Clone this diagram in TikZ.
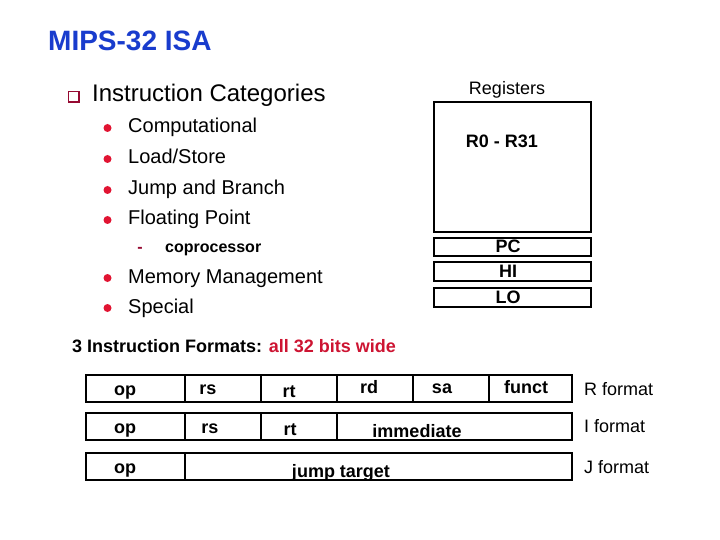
\documentclass[tikz,border=0pt]{standalone}
\usepackage{fontspec}
\setmainfont{Liberation Sans}

\definecolor{isablue}{RGB}{25,60,205}
\definecolor{dotred}{RGB}{225,20,50}
\definecolor{boxred}{RGB}{150,10,50}
\definecolor{widered}{RGB}{205,20,50}

\tikzset{
	txt/.style={anchor=base west, inner sep=0pt, font=\fontsize{20}{24}\selectfont},
	fld/.style={anchor=base, inner sep=0pt, font=\fontsize{18}{22}\selectfont\bfseries},
	fmtname/.style={anchor=base west, inner sep=0pt, font=\fontsize{18}{22}\selectfont},
	frame/.style={draw=black, line width=1.2pt}
}

\begin{document}
\begin{tikzpicture}[x=1pt, y=-1pt]

\useasboundingbox (0,0) rectangle (720,540);

\node[anchor=base west, inner sep=0pt, text=isablue, font=\fontsize{28}{32}\selectfont\bfseries] (title) at (48,51) {MIPS-32 ISA};

% categories
\draw[boxred, line width=1.4pt] (68.5,91.5) rectangle (79,102);
\node[txt, font=\fontsize{24}{28}\selectfont] (cats) at (92,102) {Instruction Categories};
\foreach \y/\t [count=\i] in {133/Computational, 164/{Load/Store}, 195/Jump and Branch, 225/Floating Point, 283/Memory Management, 313/Special}{
	\fill[dotred] (107.5,\y-5) circle [radius=4];
	\node[txt] (cat\i) at (128,\y) {\t};
}
\node[anchor=base, inner sep=0pt, text=boxred, font=\fontsize{16}{20}\selectfont\bfseries] (dash) at (140,252) {-};
\node[txt, font=\fontsize{16}{20}\selectfont\bfseries] (copro) at (165,252) {coprocessor};

% registers
\node[anchor=base, inner sep=0pt, font=\fontsize{18}{22}\selectfont] (reglbl) at (507,95) {Registers};
\draw[frame] (434,102) rectangle (591,232);
\node[fld] (regs) at (502,148) {R0 - R31};
\foreach \t/\a/\b in {PC/238/256, HI/262/281, LO/288/307}{
	\draw[frame] (434,\a) rectangle (591,\b);
	\node[fld] (\t) at (508,\b-4) {\t};
}

% formats
\node[anchor=base west, inner sep=0pt, font=\fontsize{18}{22}\selectfont\bfseries] (fmt) at (72,352) {3 Instruction Formats: \textcolor{widered}{all 32 bits wide}};

\draw[frame] (86,375) rectangle (572,402);
\foreach \x in {185,261,337,413,489}
	\draw[frame] (\x,375) -- (\x,402);
\draw[frame] (86,413) rectangle (572,440);
\foreach \x in {185,261,337}
	\draw[frame] (\x,413) -- (\x,440);
\draw[frame] (86,453) rectangle (572,480);
\draw[frame] (185,453) -- (185,480);

\node[fld] (rop) at (125,395) {op};
\node[fld] (rrs) at (208,394) {rs};
\node[fld] (rrt) at (289,397) {rt};
\node[fld] (rrd) at (369,393) {rd};
\node[fld] (rsa) at (442,393) {sa};
\node[fld] (rfn) at (526,393) {funct};
\node[fmtname] (rfmt) at (584,395) {R format};

\node[fld] (iop) at (125,433) {op};
\node[fld] (irs) at (210,433) {rs};
\node[fld] (irt) at (290,435) {rt};
\node[fld] (iimm) at (417,437) {immediate};
\node[fmtname] (ifmt) at (584,432) {I format};

\node[fld] (jop) at (125,473) {op};
\node[fld] (jtgt) at (341,477) {jump target};
\node[fmtname] (jfmt) at (584,473) {J format};

\end{tikzpicture}
\end{document}
